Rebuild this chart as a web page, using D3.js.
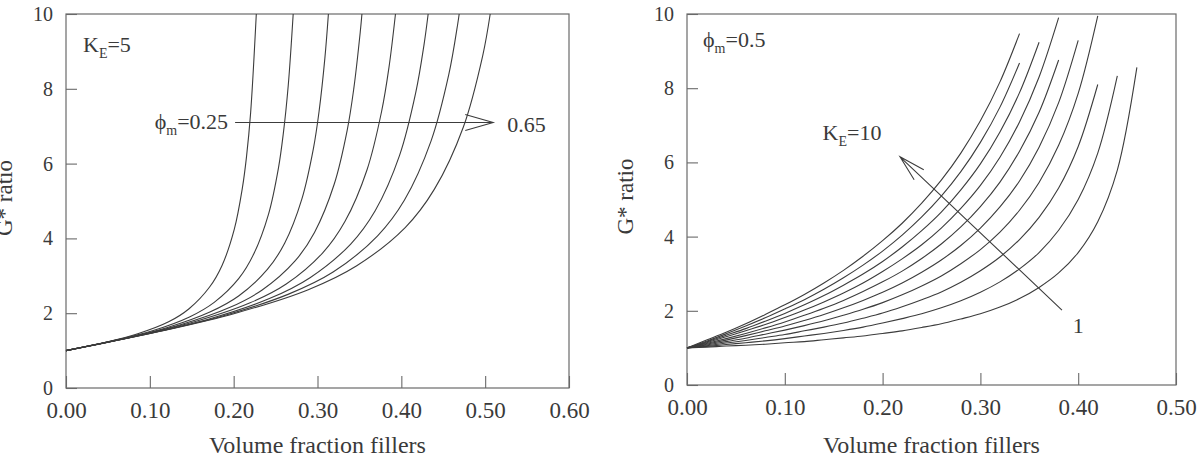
<!DOCTYPE html>
<html>
<head>
<meta charset="utf-8">
<script src="https://cdn.jsdelivr.net/npm/d3@7"></script>
<style>
  body { margin: 0; background: #fff; }
  svg { display: block; font-family: "Liberation Serif", "Times New Roman", serif; }
</style>
</head>
<body>
<div id="container"></div>
<script>
// ---- data ----

// left panel: K_E = 5, one curve per max packing fraction phi_m
const leftPhiM = ["0.25", "0.30", "0.35", "0.40", "0.45", "0.50", "0.55", "0.65"];
const leftPhi = [
  [0, 0.0489, 0.0856, 0.1224, 0.1468, 0.1713, 0.1860, 0.2007, 0.2104, 0.2153, 0.2202, 0.2270],
  [0, 0.0589, 0.1031, 0.1473, 0.1768, 0.2062, 0.2239, 0.2416, 0.2534, 0.2592, 0.2651, 0.2710],
  [0, 0.0686, 0.1201, 0.1716, 0.2059, 0.2402, 0.2608, 0.2813, 0.2951, 0.3019, 0.3088, 0.3130],
  [0, 0.0780, 0.1365, 0.1950, 0.2340, 0.2730, 0.2964, 0.3198, 0.3354, 0.3432, 0.3510, 0.3530],
  [0, 0.0876, 0.1532, 0.2189, 0.2627, 0.3065, 0.3327, 0.3590, 0.3765, 0.3853, 0.3930],
  [0, 0.0970, 0.1698, 0.2426, 0.2911, 0.3396, 0.3688, 0.3979, 0.4173, 0.4270, 0.4320],
  [0, 0.1062, 0.1859, 0.2655, 0.3186, 0.3717, 0.4036, 0.4354, 0.4567, 0.4673, 0.4690],
  [0, 0.1156, 0.2023, 0.2890, 0.3468, 0.4046, 0.4393, 0.4740, 0.4971, 0.5060]
];
const leftG = [
  [1, 1.23, 1.45, 1.77, 2.12, 2.70, 3.27, 4.24, 5.35, 6.18, 7.35, 10],
  [1, 1.28, 1.53, 1.90, 2.29, 2.93, 3.58, 4.65, 5.88, 6.80, 8.09, 10],
  [1, 1.32, 1.61, 2.03, 2.46, 3.17, 3.87, 5.05, 6.40, 7.40, 8.82, 10],
  [1, 1.36, 1.69, 2.15, 2.62, 3.39, 4.16, 5.44, 6.89, 7.99, 9.52, 10],
  [1, 1.41, 1.77, 2.27, 2.78, 3.62, 4.45, 5.83, 7.40, 8.58, 10],
  [1, 1.45, 1.84, 2.39, 2.95, 3.85, 4.74, 6.22, 7.91, 9.17, 10],
  [1, 1.49, 1.92, 2.51, 3.10, 4.07, 5.02, 6.60, 8.39, 9.74, 10],
  [1, 1.53, 2.00, 2.63, 3.27, 4.29, 5.31, 6.98, 8.89, 10]
];

// right panel: phi_m = 0.5, one curve per K_E, sampled every 0.02
const rightPhi = [0, 0.02, 0.04, 0.06, 0.08, 0.10, 0.12, 0.14, 0.16, 0.18, 0.20, 0.22,
                  0.24, 0.26, 0.28, 0.30, 0.32, 0.34, 0.36, 0.38, 0.40, 0.42, 0.44, 0.46];
const rightKE = [1, 2, 3, 4, 5, 6, 7, 8, 9, 10];
const rightG = [
  [1, 1.02, 1.05, 1.07, 1.10, 1.14, 1.17, 1.22, 1.27, 1.32, 1.39, 1.46, 1.55, 1.65, 1.78, 1.92, 2.10, 2.33, 2.63, 3.02, 3.57, 4.40, 5.79, 8.56],
  [1, 1.04, 1.09, 1.14, 1.19, 1.25, 1.32, 1.39, 1.47, 1.56, 1.67, 1.79, 1.92, 2.08, 2.27, 2.50, 2.78, 3.13, 3.57, 4.17, 5.00, 6.25, 8.33],
  [1, 1.06, 1.13, 1.20, 1.28, 1.36, 1.46, 1.56, 1.67, 1.80, 1.94, 2.11, 2.30, 2.51, 2.77, 3.08, 3.45, 3.92, 4.52, 5.31, 6.43, 8.10],
  [1, 1.08, 1.17, 1.26, 1.37, 1.48, 1.60, 1.73, 1.88, 2.04, 2.22, 2.43, 2.67, 2.94, 3.27, 3.65, 4.12, 4.71, 5.46, 6.46, 7.86, 9.95],
  [1, 1.10, 1.21, 1.33, 1.46, 1.59, 1.74, 1.90, 2.08, 2.28, 2.50, 2.75, 3.04, 3.37, 3.76, 4.23, 4.80, 5.50, 6.41, 7.61, 9.29],
  [1, 1.12, 1.25, 1.39, 1.54, 1.70, 1.88, 2.07, 2.28, 2.52, 2.78, 3.07, 3.41, 3.80, 4.26, 4.81, 5.47, 6.30, 7.35, 8.76],
  [1, 1.14, 1.30, 1.46, 1.63, 1.82, 2.02, 2.24, 2.48, 2.75, 3.06, 3.40, 3.78, 4.23, 4.76, 5.38, 6.14, 7.09, 8.30, 9.90],
  [1, 1.16, 1.34, 1.52, 1.72, 1.93, 2.16, 2.41, 2.69, 2.99, 3.33, 3.72, 4.16, 4.66, 5.26, 5.96, 6.82, 7.88, 9.24],
  [1, 1.18, 1.38, 1.59, 1.81, 2.05, 2.30, 2.58, 2.89, 3.23, 3.61, 4.04, 4.53, 5.09, 5.75, 6.54, 7.49, 8.68],
  [1, 1.21, 1.42, 1.65, 1.90, 2.16, 2.44, 2.75, 3.09, 3.47, 3.89, 4.36, 4.90, 5.52, 6.25, 7.12, 8.17, 9.47]
];

const yTicks = [0, 2, 4, 6, 8, 10];
const leftXTicks = [0, 0.1, 0.2, 0.3, 0.4, 0.5, 0.6];
const rightXTicks = [0, 0.1, 0.2, 0.3, 0.4, 0.5];

// ---- drawing ----

const ink = "#3c3c3c";
const frame = "#6a6a6a";
const textCol = "#3a3a3a";

const svg = d3.select("#container").append("svg")
  .attr("width", 1204)
  .attr("height", 462);

const line = d3.line().curve(d3.curveCatmullRom.alpha(0.5));

function panel(p) {
  const x = d3.scaleLinear().domain(p.xDomain).range([p.left, p.right]);
  const y = d3.scaleLinear().domain([0, 10]).range([p.bottom, p.top]);
  const g = svg.append("g");

  // x axis, ticks pointing into the plot
  const xa = g.append("g")
    .attr("transform", `translate(0,${p.bottom})`)
    .call(d3.axisBottom(x).tickValues(p.xTicks).tickFormat(d3.format(".2f"))
      .tickSize(-12).tickSizeOuter(0).tickPadding(14));
  xa.selectAll("text").attr("font-size", 23).attr("font-family", "Liberation Serif").attr("fill", textCol);

  const ya = g.append("g")
    .attr("transform", `translate(${p.left},0)`)
    .call(d3.axisLeft(y).tickValues(yTicks).tickSize(-11).tickSizeOuter(0).tickPadding(13));
  ya.selectAll("text").attr("font-size", 20).attr("font-family", "Liberation Serif").attr("fill", textCol);

  g.selectAll(".domain").remove();
  g.selectAll(".tick line").attr("stroke", frame).attr("stroke-width", 1.1);

  g.append("rect")
    .attr("x", p.left).attr("y", p.top)
    .attr("width", p.right - p.left).attr("height", p.bottom - p.top)
    .attr("fill", "none").attr("stroke", frame).attr("stroke-width", 1.2);

  // axis titles
  g.append("text")
    .attr("x", (p.left + p.right) / 2).attr("y", 453)
    .attr("text-anchor", "middle").attr("font-size", 24).attr("fill", textCol)
    .text("Volume fraction fillers");
  g.append("text")
    .attr("transform", `translate(${p.left - 54},${(p.top + p.bottom) / 2 - 3}) rotate(-90)`)
    .attr("text-anchor", "middle").attr("font-size", 23).attr("fill", textCol)
    .text("G* ratio");

  return { g, x, y };
}

function arrow(g, x0, y0, x1, y1, len, ang) {
  const a = Math.atan2(y0 - y1, x0 - x1);
  const r = ang * Math.PI / 180;
  const h1 = [x1 + len * Math.cos(a + r), y1 + len * Math.sin(a + r)];
  const h2 = [x1 + len * Math.cos(a - r), y1 + len * Math.sin(a - r)];
  g.append("path")
    .attr("d", `M${x0},${y0}L${x1},${y1}M${h1[0]},${h1[1]}L${x1},${y1}L${h2[0]},${h2[1]}`)
    .attr("fill", "none").attr("stroke", ink).attr("stroke-width", 1.1);
}

// left panel
const L = panel({ left: 66, right: 569, top: 14, bottom: 388, xDomain: [0, 0.6], xTicks: leftXTicks });

L.g.selectAll(".curve")
  .data(leftPhi)
  .join("path")
  .attr("class", "curve")
  .attr("d", (phis, k) => line(phis.map((f, i) => [L.x(f), L.y(leftG[k][i])])))
  .attr("fill", "none").attr("stroke", ink).attr("stroke-width", 1.1);

const ke5 = L.g.append("text").attr("x", L.x(0) + 17).attr("y", L.y(10) + 38)
  .attr("font-size", 22).attr("fill", textCol);
ke5.append("tspan").text("K");
ke5.append("tspan").attr("font-size", 14).attr("dy", 6).text("E");
ke5.append("tspan").attr("dy", -6).text("=5");

const pm = L.g.append("text").attr("x", L.x(0.2017) - 7).attr("y", L.y(7.1) + 7)
  .attr("text-anchor", "end").attr("font-size", 22).attr("fill", textCol);
pm.append("tspan").text("ϕ");
pm.append("tspan").attr("font-size", 14).attr("dy", 6).text("m");
pm.append("tspan").attr("dy", -6).text("=" + leftPhiM[0]);

arrow(L.g, L.x(0.2017), L.y(7.1), L.x(0.5095), L.y(7.1), 29, 16);

L.g.append("text").attr("x", L.x(0.5095) + 14).attr("y", L.y(7.1) + 10)
  .attr("font-size", 22).attr("fill", textCol).text(leftPhiM[leftPhiM.length - 1]);

// right panel
const R = panel({ left: 687, right: 1176, top: 14, bottom: 385, xDomain: [0, 0.5], xTicks: rightXTicks });

R.g.selectAll(".curve")
  .data(rightG)
  .join("path")
  .attr("class", "curve")
  .attr("d", gs => line(gs.map((v, i) => [R.x(rightPhi[i]), R.y(v)])))
  .attr("fill", "none").attr("stroke", ink).attr("stroke-width", 1.1);

const phm = R.g.append("text").attr("x", R.x(0) + 16).attr("y", R.y(10) + 33)
  .attr("font-size", 22).attr("fill", textCol);
phm.append("tspan").text("ϕ");
phm.append("tspan").attr("font-size", 14).attr("dy", 6).text("m");
phm.append("tspan").attr("dy", -6).text("=0.5");

const ke10 = R.g.append("text").attr("x", R.x(0.1386)).attr("y", R.y(6.6))
  .attr("font-size", 22).attr("fill", textCol);
ke10.append("tspan").text("K");
ke10.append("tspan").attr("font-size", 14).attr("dy", 6).text("E");
ke10.append("tspan").attr("dy", -6).text("=" + rightKE[rightKE.length - 1]);

arrow(R.g, R.x(0.3834), R.y(2.02), R.x(0.2178), R.y(6.15), 27, 15);

R.g.append("text").attr("x", R.x(0.400)).attr("y", R.y(1.4))
  .attr("text-anchor", "middle").attr("font-size", 22).attr("fill", textCol)
  .text(rightKE[0]);
</script>
</body>
</html>
